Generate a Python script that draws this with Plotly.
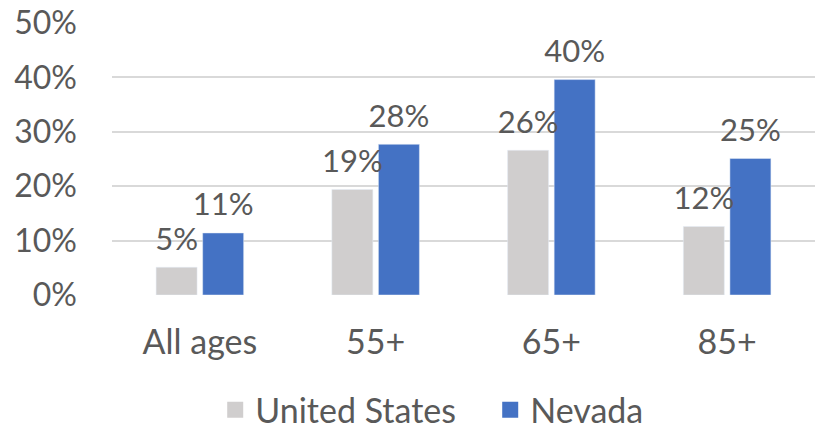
import plotly.graph_objects as go

categories = ["All ages", "55+", "65+", "85+"]
us_values = [5.1, 19.4, 26.6, 12.6]
nv_values = [11.4, 27.7, 39.6, 25.1]
us_labels = ["5%", "19%", "26%", "12%"]
nv_labels = ["11%", "28%", "40%", "25%"]
tick_vals = [0, 10, 20, 30, 40, 50]
tick_text = ["0%", "10%", "20%", "30%", "40%", "50%"]

font_family = "Lato, 'Open Sans', sans-serif"
text_color = "#595959"
us_color = "#D0CECE"
nv_color = "#4472C4"

fig = go.Figure()

series = [("United States", us_values, us_labels, us_color),
          ("Nevada", nv_values, nv_labels, nv_color)]

for name, vals, labels, color in series:
    fig.add_trace(go.Bar(
        x=categories, y=vals, name=name, offsetgroup=name,
        marker_color=color, showlegend=False, hoverinfo="skip",
    ))

# value labels: invisible markers push the text a bit above the bar tops
for name, vals, labels, color in series:
    fig.add_trace(go.Scatter(
        x=categories, y=vals, offsetgroup=name, mode="markers+text",
        text=labels, textposition="top center", cliponaxis=False,
        marker=dict(size=14, opacity=0), showlegend=False, hoverinfo="skip",
        textfont=dict(size=31, color=text_color),
    ))

# legend entries with bigger square swatches
for name, vals, labels, color in series:
    fig.add_trace(go.Scatter(
        x=[None], y=[None], mode="markers", name=name,
        marker=dict(symbol="square", size=20, color=color),
    ))

fig.update_layout(
    width=827, height=429,
    margin=dict(l=112, r=12, t=23, b=134, autoexpand=False),
    paper_bgcolor="white", plot_bgcolor="white",
    font=dict(family=font_family, size=32, color=text_color),
    barmode="group", bargap=0.47, bargroupgap=0.12,
    scattermode="group", scattergap=0.47,
    showlegend=True,
    legend=dict(orientation="h", x=0.538, xanchor="center", y=-0.423, yanchor="middle",
                font=dict(size=34, color=text_color), itemsizing="trace",
                entrywidth=230),
    xaxis=dict(showline=False, ticks="", tickfont=dict(size=34),
               automargin=False, ticklabelstandoff=24),
    yaxis=dict(range=[0, 50], tickvals=tick_vals, ticktext=tick_text,
               showgrid=True, gridcolor="#D9D9D9", gridwidth=1.5,
               zeroline=False, showline=False, ticks="", ticklen=0,
               tickfont=dict(size=32), automargin=False, ticklabelstandoff=34),
)

fig.write_html("out.html", config={"displayModeBar": False},
               post_script="document.body.style.margin='0';")
